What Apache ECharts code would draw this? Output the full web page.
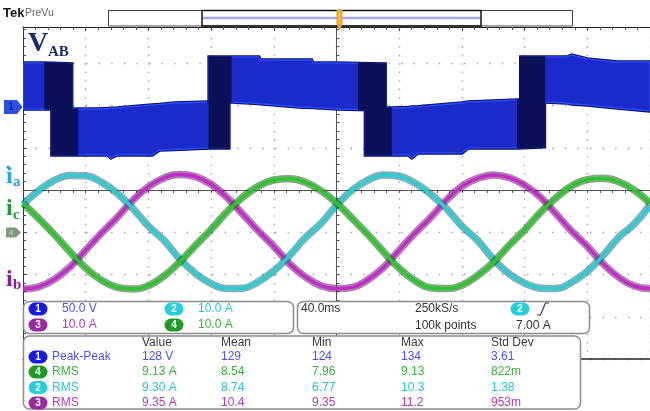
<!DOCTYPE html>
<html><head><meta charset="utf-8">
<script src="https://cdn.jsdelivr.net/npm/echarts@6/dist/echarts.min.js"></script>
<style>html,body{margin:0;padding:0;background:#fff}#c{width:650px;height:411px}</style>
</head><body><div id="c"></div>
<script>
// ---------------- data (time in ms from left screen edge, 40 ms/div) ----------------
const timeMs = [0,10,20,30,40,50,60,70,80,90,100,110,120,130,140,150,160,170,180,190,200,
  210,220,230,240,250,260,270,280,290,300,310,320,330,340,350,360,370,380,390,400];
// phase currents in A (10 A/div)
const iaAmps = [6.5,9.8,12.2,13.4,13.3,11.8,9.2,5.6,1.4,-2.0,-6.4,-9.8,-12.2,-13.4,-13.3,-11.8,-9.2,-5.6,-1.4,2.0,
  6.3,9.9,12.3,13.5,13.2,11.6,9.0,5.6,1.4,-2.0,-6.4,-9.9,-12.1,-13.3,-13.4,-11.9,-9.3,-5.6,-1.3,1.9,6.4];
const ibAmps = [-13.5,-13.0,-11.2,-8.3,-4.3,-0.3,3.4,7.5,10.7,12.8,13.6,13.1,11.3,8.2,4.3,0.3,-3.4,-7.5,-10.6,-12.7,
  -13.4,-13.1,-11.3,-8.4,-4.3,-0.3,3.4,7.5,10.8,12.7,13.5,12.9,11.1,8.3,4.3,0.2,-3.4,-7.5,-10.7,-12.8,-13.4];
const icAmps = [6.8,3.2,-0.6,-4.7,-8.5,-11.4,-13.1,-13.5,-12.7,-10.4,-7.1,-3.2,0.6,4.7,8.2,10.8,12.3,12.6,11.8,9.8,
  6.9,3.2,-0.6,-4.7,-8.6,-11.5,-13.2,-13.4,-12.6,-10.3,-7.2,-3.2,0.5,4.6,8.1,10.9,12.4,12.7,11.9,9.9,6.8];
// line voltage V_AB pulses (envelope top / bottom in V, 50 V/div)
const pos1T = [0, 14.0, 31.1];
const pos1Top = [52.1, 52.1, 50.9];
const pos1Bot = [-2.4, -2.4, -2.4];
const neg1T = [18.4, 34.9, 47, 54, 56, 60, 82.5, 87, 96.5, 118.7, 131.4];
const neg1Top = [-2.4, -2.4, -2.4, -1.8, -1.5, -1.2, 2.4, 3.0, 4.7, 5.9, 5.9];
const neg1Bot = [-56.8, -56.8, -56.8, -56.8, -60.3, -56.8, -56.8, -50.9, -50.3, -48.5, -48.5];
const pos2T = [118.7, 131.4, 132.7, 150.5, 151.5, 176, 184, 185, 201, 214, 231.1];
const pos2Top = [59.2, 59.2, 59.2, 59.2, 55.6, 55.6, 55.6, 52.1, 52.1, 51.5, 50.9];
const pos2Bot = [5.9, 5.9, 5.7, 4.0, 3.8, 0.0, -0.6, -0.7, -2.4, -3.0, -3.5];
const neg2T = [218.4, 234.9, 245.7, 248, 252, 280, 284, 315.6, 332.7];
const neg2Top = [-1.2, -1.2, -0.5, 0, 0.2, 4.7, 5.9, 8.3, 8.3];
const neg2Bot = [-56.8, -56.8, -56.8, -60.3, -54.4, -54.4, -48.5, -48.5, -47.3];
const pos3T = [317.5, 332.7, 347.3, 350, 360, 379, 400];
const pos3Top = [59.2, 59.2, 59.2, 61.5, 56.8, 53.2, 53.2];
const pos3Bot = [8.3, 5.9, 4.7, 3.5, 2.4, -1.2, -4.7];
// dense switching spans: [pulse index, start ms, end ms]
const denseSpans = [[0,14.0,31.1],[1,18.4,34.9],[1,118.7,131.4],[2,118.7,132.7],[2,214,231.1],
  [3,218.4,234.9],[3,315.6,332.7],[4,317.5,332.7]];
// channel settings
const vScale = 50, iScale = 10;
const chLabels = ['1','2','3','4'];
const chScales = ['50.0 V','10.0 A','10.0 A','10.0 A'];
const timeBase = '40.0ms', sampleRate = '250kS/s', recLen = '100k points', trigLevel = '7.00 A';
// measurements
const measHeader = ['Value','Mean','Min','Max','Std Dev'];
const measCh = ['1','4','2','3'];
const measName = ['Peak-Peak','RMS','RMS','RMS'];
const measValue = ['128 V','9.13 A','9.30 A','9.35 A'];
const measMean = ['129','8.54','8.74','10.4'];
const measMin = ['124','7.96','6.77','9.35'];
const measMax = ['134','9.13','10.3','11.2'];
const measStd = ['3.61','822m','1.38','953m'];

// ---------------- chart ----------------
const vOffset = 1.965, iOffset = -0.994;   // ground-marker positions in divisions
const vDiv = v => vOffset + v / vScale;
const iDiv = a => iOffset + a / iScale;
const pulses = [
  {t: pos1T, top: pos1Top, bot: pos1Bot},
  {t: neg1T, top: neg1Top, bot: neg1Bot},
  {t: pos2T, top: pos2Top, bot: pos2Bot},
  {t: neg2T, top: neg2Top, bot: neg2Bot},
  {t: pos3T, top: pos3Top, bot: pos3Bot}
];
const fullSpans = pulses.map((p, i) => [i, p.t[0], p.t[p.t.length - 1]]);

function bandPoints(api) {
  const p = pulses[api.value(0)];
  const t0 = api.value(1), t1 = api.value(2);
  const up = [], lo = [];
  for (let k = 0; k < p.t.length; k++) {
    if (p.t[k] >= t0 - 1e-6 && p.t[k] <= t1 + 1e-6) {
      up.push(api.coord([p.t[k], vDiv(p.top[k])]));
      lo.push(api.coord([p.t[k], vDiv(p.bot[k])]));
    }
  }
  return up.concat(lo.reverse());
}
function blueRender(params, api) {
  const pts = bandPoints(api);
  return {type: 'group', children: [
    {type: 'polygon', shape: {points: pts}, style: {fill: '#0a1266', stroke: '#0a1266', lineWidth: 3.4}},
    {type: 'polygon', shape: {points: pts}, style: {fill: '#1b2bcb', stroke: '#2b4cff', lineWidth: 1.3}}
  ]};
}
function denseRender(params, api) {
  const pts = bandPoints(api);
  return {type: 'polygon', shape: {points: pts}, style: {fill: '#0b1058', stroke: '#0b1058', lineWidth: 1.2}};
}
function currentSeries(vals, core, fuzz) {
  const data = timeMs.map((t, k) => [t, iDiv(vals[k])]);
  return [
    {type: 'line', data: data, symbol: 'none', smooth: 0.45, silent: true, z: 3, lineStyle: {color: fuzz, width: 7.5}},
    {type: 'line', data: data, symbol: 'none', smooth: 0.45, silent: true, z: 3, lineStyle: {color: core, width: 3.4}}
  ];
}

const chColor = {'1': '#1c1ce0', '2': '#26cfdc', '3': '#9a2a9e', '4': '#1f9a22'};
const chText = {'1': '#4f4fee', '2': '#25c4d4', '3': '#b23ab6', '4': '#37b338'};
const FONT = '"Liberation Sans",Arial,sans-serif';
const G = [];
function txt(x, y, s, color, size, weight, family) {
  G.push({type: 'text', x: x, y: y, z: 120, silent: true,
    style: {text: s, fill: color, font: (weight || 'normal') + ' ' + size + 'px ' + (family || FONT),
      verticalAlign: 'middle', textVerticalAlign: 'middle', align: 'left', textAlign: 'left'}});
}
function badge(cx, cy, ch) {
  G.push({type: 'rect', z: 115, silent: true, shape: {x: cx - 9.5, y: cy - 6.5, width: 19, height: 13, r: 6.5}, style: {fill: chColor[ch]}});
  G.push({type: 'text', x: cx, y: cy + 0.5, z: 120, silent: true,
    style: {text: ch, fill: '#fff', font: 'bold 10px "Liberation Sans",sans-serif', align: 'center', textAlign: 'center', verticalAlign: 'middle', textVerticalAlign: 'middle'}});
}
// header
G.push({type: 'rect', z: 50, silent: true, shape: {x: 0, y: 0, width: 650, height: 26.5}, style: {fill: '#fff'}});
txt(3, 13, 'Tek', '#111', 13, 'bold', '"Liberation Sans",sans-serif');
txt(25, 13.5, 'PreVu', '#666', 10.5, 'normal', '"Liberation Sans",sans-serif');
G.push({type: 'rect', z: 60, silent: true, shape: {x: 108.5, y: 10.5, width: 464, height: 15.5}, style: {fill: '#fff', stroke: '#444', lineWidth: 1}});
G.push({type: 'line', z: 61, silent: true, shape: {x1: 203, y1: 18, x2: 480, y2: 18}, style: {stroke: '#a4aaf4', lineWidth: 2.5}});
G.push({type: 'rect', z: 62, silent: true, shape: {x: 202, y: 10.5, width: 279, height: 15.5}, style: {fill: 'none', stroke: '#111', lineWidth: 1.5}});
G.push({type: 'polygon', z: 65, silent: true, shape: {points: [[336.5, 10], [342.5, 10], [342.5, 24], [339.5, 31], [336.5, 24]]}, style: {fill: '#f3a324'}});
G.push({type: 'line', z: 66, silent: true, shape: {x1: 339.5, y1: 12, x2: 339.5, y2: 24}, style: {stroke: '#fbd98a', lineWidth: 1}});
// trace labels
txt(28, 43.5, 'V', '#1b2a6b', 28, 'bold', '"Liberation Serif",serif');
txt(48, 52, 'AB', '#1b2a6b', 15, 'bold', '"Liberation Serif",serif');
txt(6, 177, 'i', '#1fa6e4', 24, 'bold', '"Liberation Serif",serif');
txt(13, 182, 'a', '#1fa6e4', 15, 'bold', '"Liberation Serif",serif');
txt(6, 209, 'i', '#1c9b3b', 24, 'bold', '"Liberation Serif",serif');
txt(13, 215, 'c', '#1c9b3b', 15, 'bold', '"Liberation Serif",serif');
txt(6, 280, 'i', '#8d1d8d', 24, 'bold', '"Liberation Serif",serif');
txt(13, 285, 'b', '#8d1d8d', 15, 'bold', '"Liberation Serif",serif');
// ground markers
G.push({type: 'polygon', z: 70, silent: true, shape: {points: [[4, 100], [17, 100], [22.5, 107], [17, 114], [4, 114]]}, style: {fill: '#2c4fe6'}});
G.push({type: 'text', x: 11, y: 107.5, z: 71, silent: true, style: {text: '1', fill: '#0e1c78', font: 'bold 10px "Liberation Sans",sans-serif', align: 'center', textAlign: 'center', verticalAlign: 'middle', textVerticalAlign: 'middle'}});
G.push({type: 'polygon', z: 70, silent: true, shape: {points: [[6, 227.5], [16, 227.5], [21, 232.5], [16, 237.5], [6, 237.5]]}, style: {fill: '#7f9a80'}});
G.push({type: 'text', x: 11, y: 233, z: 71, silent: true, style: {text: '4', fill: '#b9cbb9', font: 'bold 8px "Liberation Sans",sans-serif', align: 'center', textAlign: 'center', verticalAlign: 'middle', textVerticalAlign: 'middle'}});
G.push({type: 'circle', z: 70, silent: true, shape: {cx: 8, cy: 167, r: 1.6}, style: {fill: '#1fa6e4'}});
// panels
const panelStyle = {fill: '#fff', stroke: '#8c8c8c', lineWidth: 1.5};
G.push({type: 'rect', z: 110, silent: true, shape: {x: 23.5, y: 301.5, width: 270, height: 32, r: 6}, style: panelStyle});
G.push({type: 'rect', z: 110, silent: true, shape: {x: 297.5, y: 301.5, width: 292, height: 32, r: 6}, style: panelStyle});
G.push({type: 'rect', z: 110, silent: true, shape: {x: 23.5, y: 336, width: 557, height: 73, r: 6}, style: panelStyle});
const chPos = [[38, 309, 62], [174, 309, 198], [38, 325, 62], [174, 325, 198]];
['1', '2', '3', '4'].forEach((ch, k) => {
  badge(chPos[k][0], chPos[k][1], ch);
  txt(chPos[k][2], chPos[k][1], chScales[chLabels.indexOf(ch)], chText[ch], 12);
});
txt(301, 309, timeBase, '#333', 12);
txt(415, 309, sampleRate, '#333', 12);
txt(415, 326, recLen, '#333', 12);
badge(520, 309, '2');
G.push({type: 'polyline', z: 120, silent: true, shape: {points: [[537, 315], [540.5, 315], [545.5, 303], [549, 303]]}, style: {stroke: '#333', lineWidth: 1.1, fill: 'none'}});
txt(516, 326, trigLevel, '#333', 12);
const colX = [142, 221, 312, 401, 491];
measHeader.forEach((h, k) => txt(colX[k], 343, h, '#3a3a3a', 12));
const rowY = [357, 372, 387.5, 403];
measCh.forEach((ch, r) => {
  badge(38, rowY[r], ch);
  const c = chText[ch];
  txt(52, rowY[r], measName[r], c, 12);
  [measValue, measMean, measMin, measMax, measStd].forEach((arr, k) => txt(colX[k], rowY[r], arr[r], c, 12));
});

const dotGrey = '#a0a0a0';
const option = {
  animation: false,
  backgroundColor: '#fff',
  grid: {left: 23, top: 21, width: 630, height: 338, containLabel: false},
  xAxis: [
    {type: 'value', min: 0, max: 400, interval: 40, position: 'top', offset: -6,
      axisLine: {show: true, onZero: false, lineStyle: {color: '#222', width: 1}},
      axisTick: {show: true, inside: true, length: 4, lineStyle: {color: '#444'}},
      minorTick: {show: true, splitNumber: 5, length: 3, lineStyle: {color: '#555'}},
      axisLabel: {show: false},
      splitLine: {show: true, lineStyle: {color: dotGrey, width: 1.4, type: [1.4, 7.05]}}},
    {type: 'value', min: -200, max: 200, interval: 40, position: 'bottom',
      axisLine: {show: true, onZero: true, onZeroAxisIndex: 0, lineStyle: {color: '#555', width: 1}},
      axisTick: {show: true, length: 3, lineStyle: {color: '#555'}},
      minorTick: {show: true, splitNumber: 5, length: 3, lineStyle: {color: '#555'}},
      axisLabel: {show: false}, splitLine: {show: false}},
    {type: 'value', min: 0, max: 400, position: 'bottom',
      axisLine: {show: true, onZero: false, lineStyle: {color: '#222', width: 1.5}},
      axisTick: {show: false}, axisLabel: {show: false}, splitLine: {show: false}}
  ],
  yAxis: [
    {type: 'value', min: -4, max: 4, interval: 1, position: 'left',
      axisLine: {show: true, onZero: false, lineStyle: {color: '#333', width: 1}},
      axisTick: {show: true, inside: true, length: 4, lineStyle: {color: '#444'}},
      minorTick: {show: true, splitNumber: 5, length: 3, lineStyle: {color: '#555'}},
      axisLabel: {show: false},
      splitLine: {show: true, lineStyle: {color: dotGrey, width: 1.4, type: [1.4, 11.2]}}},
    {type: 'value', min: -4, max: 4, interval: 1, position: 'right',
      axisLine: {show: true, onZero: true, onZeroAxisIndex: 1, lineStyle: {color: '#555', width: 1}},
      axisTick: {show: true, length: 3, lineStyle: {color: '#555'}},
      minorTick: {show: true, splitNumber: 5, length: 3, lineStyle: {color: '#555'}},
      axisLabel: {show: false}, splitLine: {show: false}}
  ],
  series: [
    {type: 'custom', name: 'VAB', renderItem: blueRender,
      data: fullSpans, encode: {x: [1, 2], y: 0}, clip: true, z: 2, silent: true},
    {type: 'custom', name: 'VAB dense', renderItem: denseRender,
      data: denseSpans, encode: {x: [1, 2], y: 0}, clip: true, z: 2, silent: true}
  ]
    .concat(currentSeries(ibAmps, '#c02cc6', 'rgba(112,20,118,0.55)'))
    .concat(currentSeries(iaAmps, '#2fcad4', 'rgba(26,118,126,0.55)'))
    .concat(currentSeries(icAmps, '#2fc42f', 'rgba(18,104,18,0.55)')),
  graphic: {elements: G}
};
const chart = echarts.init(document.getElementById('c'), null, {renderer: 'canvas'});
chart.setOption(option);
</script></body></html>
